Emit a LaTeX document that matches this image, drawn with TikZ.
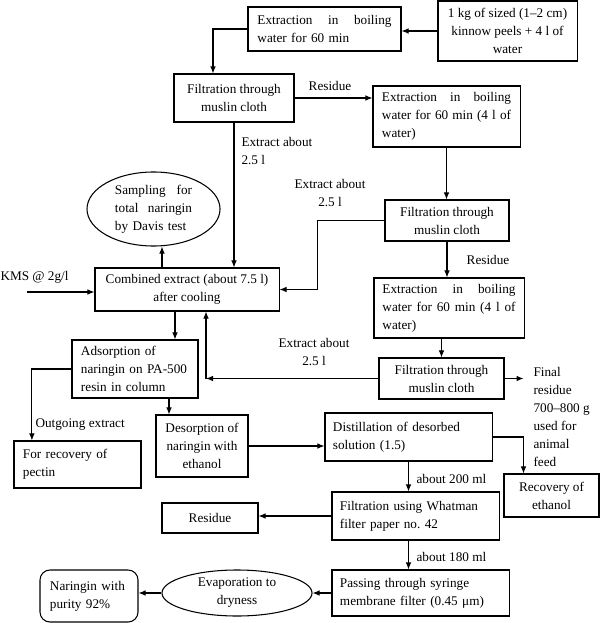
\documentclass[tikz,border=0pt]{standalone}
\usepackage{fontspec}
\setmainfont{Liberation Serif}
\usepackage{tikz}
\usetikzlibrary{shapes.geometric,arrows.meta}

\begin{document}
\begin{tikzpicture}[x=0.025cm, y=-0.025cm, line width=0.75pt,
    every node/.style={font=\fontsize{9.4}{12.8}\selectfont},
    box/.style={draw, inner sep=0pt},
    oval/.style={draw, ellipse, inner sep=0pt},
    lbl/.style={inner sep=0pt},
    >={Latex[length=5pt,width=4pt]}]
\useasboundingbox (0,0) rectangle (600,623);
% first extraction
    \node[box, minimum width=3.825cm, minimum height=1.1cm, text width=3.35cm, align=left] (ext1) at (324.5,29) {Extraction\hfill in\hfill boiling\\water for 60 min};
    \node[box, minimum width=3.475cm, minimum height=1.5cm, align=center] (peels) at (507.5,31) {1 kg of sized (1--2 cm)\\kinnow peels + 4 l of\\water};
    \node[box, minimum width=3.0cm, minimum height=1.2cm, align=center] (filt1) at (234,98) {Filtration through\\muslin cloth};
    %second and third extraction
    \node[box, minimum width=3.675cm, minimum height=1.525cm, text width=3.225cm, align=left] (ext2) at (446.5,116.5) {Extraction\hfill in\hfill boiling\\water\hfill for\hfill 60\hfill min\hfill (4\hfill l\hfill of\\water)};
    \node[box, minimum width=3.1cm, minimum height=1.025cm, align=center] (filt2) at (447,220.5) {Filtration through\\muslin cloth};
    \node[box, minimum width=3.75cm, minimum height=1.5cm, text width=3.325cm, align=left] (ext3) at (449,308) {Extraction\hfill in\hfill boiling\\water\hfill for\hfill 60\hfill min\hfill (4\hfill l\hfill of\\water)};
    \node[box, minimum width=3.125cm, minimum height=1.025cm, align=center] (filt3) at (441.5,378.5) {Filtration through\\muslin cloth};
    % combined extract
    \node[box, minimum width=4.6cm, minimum height=1.075cm, align=center] (comb) at (187,289.5) {Combined extract (about 7.5 l)\\after cooling};
    \node[oval, minimum width=3.325cm, minimum height=1.85cm, text width=1.925cm, align=left] (davis) at (153.5,209) {Sampling\hfill for\\total\hfill naringin\\by Davis test};
    % resin column
    \node[box, minimum width=3.15cm, minimum height=1.45cm, text width=2.7cm, align=left] (ads) at (135,369) {Adsorption of\\naringin on PA-500\\resin in column};
    \node[box, minimum width=3.175cm, minimum height=1.175cm, text width=2.725cm, align=left] (pectin) at (77.5,464.5) {For recovery of\\pectin};
    \node[box, minimum width=2.3cm, minimum height=1.55cm, align=center] (des) at (202,446) {Desorption of\\naringin with\\ethanol};
    \node[box, minimum width=4.175cm, minimum height=1.2cm, text width=3.775cm, align=left] (dist) at (408.5,437) {Distillation of desorbed\\solution (1.5)};
    \node[box, minimum width=2.375cm, minimum height=1.075cm, align=center] (recov) at (551.5,495.5) {Recovery of\\ethanol};
    % purification
    \node[box, minimum width=4.175cm, minimum height=1.2cm, text width=3.775cm, align=left] (whatman) at (415.5,516) {Filtration using Whatman\\filter paper no.\ 42};
    \node[box, minimum width=2.4cm, minimum height=0.75cm] (resid) at (210,518) {Residue};
    \node[box, minimum width=4.425cm, minimum height=1.15cm, text width=4.025cm, align=left] (syringe) at (420.5,593) {Passing through syringe\\membrane filter (0.45 μm)};
    \node[oval, minimum width=3.75cm, minimum height=1.15cm, align=center] (evap) at (237,593) {Evaporation to\\dryness};
    \node[box, rounded corners=0.25cm, minimum width=2.45cm, minimum height=1.3cm, text width=1.95cm, align=left] (purity) at (89,596) {Naringin with\\purity 92\%};
    % labels
    \node[lbl] (res1) at (330,86) {Residue};
    \node[lbl, anchor=west, align=left] (ex1) at (241,151) {Extract about\\2.5 l};
    \node[lbl, align=center] (ex2) at (330,193) {Extract about\\2.5 l};
    \node[lbl, anchor=west] (kms) at (0,277) {KMS @ 2g/l};
    \node[lbl] (res2) at (488,260) {Residue};
    \node[lbl, align=center] (ex3) at (314,352) {Extract about\\2.5 l};
    \node[lbl, anchor=west, align=left] (final) at (533,416.5) {Final\\residue\\700--800 g\\used for\\animal\\feed};
    \node[lbl, anchor=west] (outg) at (35,425) {Outgoing extract};
    \node[lbl, anchor=west] (ml200) at (416,479) {about 200 ml};
    \node[lbl, anchor=west] (ml180) at (416,557) {about 180 ml};
    % arrows
    \draw[->] (peels.west) -- (peels.west -| ext1.east);
    \draw[->] (ext1.west) -| ([xshift=-0.525cm]filt1.north);
    \draw[->] (filt1.east) -- (filt1.east -| ext2.west);
    \draw[->] (filt1.south) -- (filt1.south |- comb.north);
    \draw[->] (ext2.south) -- (ext2.south |- filt2.north);
    \draw[->] (filt2.west) -- ++(-67,0) |- (comb.east);
    \coordinate (samp) at ([xshift=-0.625cm]comb.north);
    \draw[->] (samp) -- (samp |- davis.south);
    \coordinate (kmsin) at (27,292);
    \draw[->] (kmsin) -- (kmsin -| comb.west);
    \draw[->] (filt2.south) -- (filt2.south |- ext3.north);
    \draw[->] (ext3.south -| filt3.north) -- (filt3.north);
    \coordinate (back) at (206,378.5);
    \draw[->] (filt3.west) -- (back);
    \draw[->] (back) -- (back |- comb.south);
    \draw[->] (filt3.east) -- ++(19,0);
    \coordinate (toads) at ([xshift=-0.3cm]comb.south);
    \draw[->] (toads) -- (toads |- ads.north);
    \draw[->] (ads.west) -| ([xshift=-1.14cm]pectin.north);
    \coordinate (todes) at ([xshift=0.85cm]ads.south);
    \draw[->] (todes) -- (todes |- des.north);
    \draw[->] (des.east) -- (des.east -| dist.west);
    \draw[->] (dist.east) -| ([xshift=-0.7cm]recov.north);
    \draw[->] (dist.south) -- (dist.south |- whatman.north);
    \draw[->] (whatman.west) -- (whatman.west -| resid.east);
    \draw[->] (whatman.south -| dist.south) -- (syringe.north -| dist.south);
    \draw[->] (syringe.west) -- (evap.east);
    \draw[->] (evap.west) -- (evap.west -| purity.east);
\end{tikzpicture}
\end{document}
